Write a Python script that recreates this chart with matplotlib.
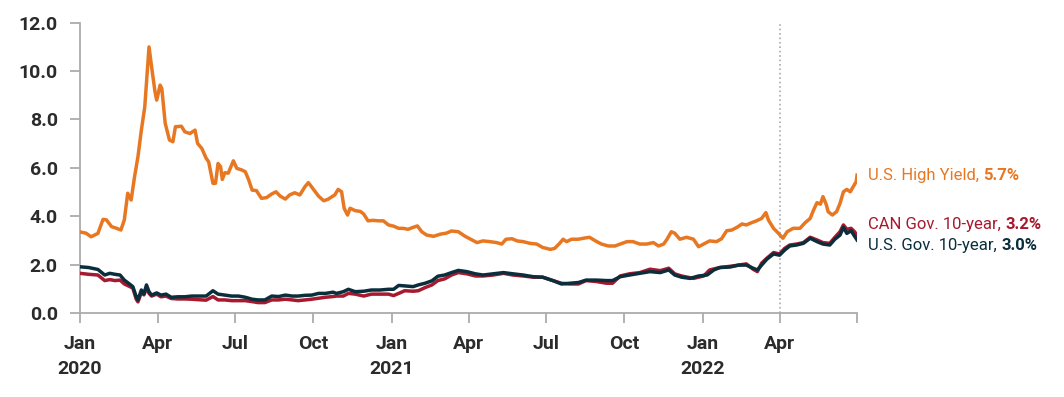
import numpy as np
import pandas as pd
import matplotlib
matplotlib.use("Agg")
import matplotlib.pyplot as plt

# values, day offsets counted from 2020-01-01
hy_days = [0, 7, 13, 21, 27, 31, 37, 43, 48, 52, 56, 60, 64, 68, 72, 76, 79, 81, 84, 88,
           90, 94, 96, 100, 105, 109, 112, 119, 123, 129, 135, 138, 143, 148, 151, 156, 159, 162, 165, 167,
           170, 174, 180, 184, 190, 194, 198, 202, 207, 213, 219, 225, 230, 235, 241, 246, 252, 258, 264, 268,
           274, 280, 286, 291, 299, 303, 307, 310, 314, 317, 323, 329, 333, 338, 344, 350, 356, 362, 368, 374,
           379, 385, 391, 396, 401, 407, 415, 423, 430, 436, 444, 452, 460, 466, 473, 481, 489, 495, 500, 507,
           513, 520, 528, 536, 543, 552, 557, 563, 567, 571, 577, 585, 591, 598, 605, 612, 620, 628, 634, 642,
           649, 657, 665, 673, 679, 685, 689, 694, 698, 704, 712, 720, 726, 732, 739, 747, 753, 759, 765, 771,
           777, 782, 788, 794, 800, 805, 808, 814, 819, 825, 830, 837, 845, 851, 857, 861, 865, 869, 872, 876,
           878, 883, 888, 892, 896, 900, 904, 908, 911, 912]
hy_vals = [3.35, 3.30, 3.15, 3.29, 3.87, 3.85, 3.57, 3.50, 3.43, 3.85, 4.95, 4.67, 5.63, 6.46, 7.56, 8.52, 10.04, 11.0, 10.18, 9.15,
           8.80, 9.42, 9.28, 7.84, 7.15, 7.08, 7.70, 7.72, 7.49, 7.42, 7.56, 7.01, 6.80, 6.40, 6.25, 5.36, 5.36, 6.18, 6.05, 5.52,
           5.80, 5.78, 6.29, 5.98, 5.91, 5.84, 5.50, 5.08, 5.06, 4.74, 4.77, 4.92, 5.01, 4.83, 4.71, 4.88, 4.97, 4.88, 5.22, 5.39,
           5.11, 4.83, 4.64, 4.70, 4.88, 5.11, 5.01, 4.33, 4.05, 4.33, 4.23, 4.20, 4.09, 3.81, 3.83, 3.81, 3.81, 3.64, 3.59, 3.50,
           3.50, 3.46, 3.54, 3.60, 3.36, 3.22, 3.17, 3.26, 3.30, 3.39, 3.36, 3.17, 3.02, 2.91, 2.98, 2.95, 2.91, 2.85, 3.05, 3.07,
           2.98, 2.95, 2.88, 2.85, 2.71, 2.63, 2.67, 2.88, 3.05, 2.95, 3.05, 3.05, 3.09, 3.13, 2.98, 2.85, 2.77, 2.77, 2.85, 2.95,
           2.95, 2.85, 2.85, 2.91, 2.77, 2.85, 3.05, 3.36, 3.30, 3.05, 3.13, 3.05, 2.74, 2.85, 2.98, 2.95, 3.07, 3.40, 3.43, 3.54,
           3.68, 3.64, 3.73, 3.81, 3.91, 4.15, 3.84, 3.50, 3.32, 3.09, 3.36, 3.50, 3.50, 3.73, 3.91, 4.26, 4.56, 4.50, 4.81, 4.47,
           4.19, 4.05, 4.19, 4.53, 5.01, 5.11, 5.01, 5.25, 5.43, 5.70]

us_days = [0, 10, 21, 29, 35, 41, 47, 52, 58, 62, 66, 68, 72, 75, 78, 81, 84, 90, 95, 101,
           107, 115, 123, 131, 139, 148, 156, 162, 170, 178, 186, 194, 202, 209, 217, 225, 233, 241, 249, 256,
           264, 272, 280, 288, 297, 301, 309, 315, 323, 333, 342, 352, 362, 368, 374, 381, 391, 397, 405, 413,
           420, 428, 436, 444, 454, 464, 473, 485, 497, 508, 520, 532, 543, 555, 565, 575, 585, 594, 606, 618,
           625, 634, 645, 657, 669, 681, 691, 698, 706, 716, 726, 736, 744, 751, 763, 773, 782, 790, 795, 800,
           806, 814, 821, 827, 833, 841, 849, 857, 865, 872, 880, 886, 892, 896, 900, 905, 909, 912]
us_vals = [1.91, 1.88, 1.80, 1.57, 1.64, 1.60, 1.57, 1.36, 1.20, 1.09, 0.67, 0.54, 0.95, 0.79, 1.16, 0.88, 0.74, 0.83, 0.74, 0.78,
           0.65, 0.67, 0.67, 0.70, 0.70, 0.70, 0.92, 0.78, 0.74, 0.70, 0.70, 0.65, 0.57, 0.54, 0.54, 0.70, 0.68, 0.74, 0.70, 0.70,
           0.73, 0.74, 0.81, 0.81, 0.86, 0.81, 0.88, 0.98, 0.88, 0.90, 0.95, 0.95, 0.98, 0.98, 1.14, 1.12, 1.09, 1.16, 1.23, 1.33,
           1.52, 1.57, 1.67, 1.76, 1.71, 1.62, 1.57, 1.62, 1.67, 1.62, 1.57, 1.50, 1.48, 1.34, 1.20, 1.23, 1.26, 1.36, 1.36, 1.34,
           1.34, 1.50, 1.57, 1.64, 1.71, 1.67, 1.78, 1.57, 1.48, 1.43, 1.53, 1.57, 1.78, 1.88, 1.90, 1.98, 1.98, 1.85, 1.78, 1.98,
           2.22, 2.44, 2.39, 2.60, 2.77, 2.81, 2.88, 3.09, 2.95, 2.85, 2.81, 3.05, 3.22, 3.54, 3.29, 3.40, 3.18, 3.02]

can_days = [0, 10, 21, 29, 35, 41, 47, 52, 58, 62, 66, 68, 72, 75, 78, 81, 84, 90, 95, 101,
            107, 115, 123, 131, 139, 148, 156, 162, 170, 178, 186, 194, 202, 209, 217, 225, 233, 241, 249, 256,
            264, 272, 280, 288, 297, 301, 309, 315, 323, 333, 342, 352, 362, 368, 376, 381, 391, 397, 405, 413,
            420, 428, 436, 444, 454, 464, 473, 485, 497, 508, 520, 532, 543, 555, 565, 575, 585, 594, 606, 618,
            625, 634, 645, 657, 669, 681, 691, 698, 706, 720, 732, 739, 751, 763, 773, 782, 790, 795, 800, 806,
            814, 821, 827, 833, 841, 849, 857, 865, 872, 880, 886, 892, 896, 900, 905, 909, 912]
can_vals = [1.64, 1.60, 1.57, 1.34, 1.38, 1.34, 1.36, 1.20, 1.10, 1.03, 0.57, 0.46, 0.85, 0.75, 1.03, 0.81, 0.70, 0.78, 0.67, 0.70,
            0.60, 0.58, 0.58, 0.57, 0.55, 0.53, 0.68, 0.54, 0.54, 0.51, 0.51, 0.51, 0.47, 0.43, 0.43, 0.54, 0.54, 0.57, 0.54, 0.51,
            0.54, 0.57, 0.61, 0.65, 0.68, 0.70, 0.70, 0.81, 0.78, 0.70, 0.78, 0.78, 0.78, 0.72, 0.84, 0.92, 0.90, 0.92, 1.05, 1.16,
            1.34, 1.41, 1.57, 1.67, 1.62, 1.53, 1.53, 1.57, 1.64, 1.57, 1.53, 1.48, 1.48, 1.34, 1.23, 1.20, 1.20, 1.34, 1.30, 1.23,
            1.23, 1.53, 1.62, 1.67, 1.81, 1.75, 1.85, 1.62, 1.53, 1.43, 1.53, 1.78, 1.88, 1.93, 1.98, 2.03, 1.81, 1.71, 2.06, 2.26,
            2.50, 2.44, 2.67, 2.81, 2.85, 2.91, 3.13, 3.02, 2.91, 2.88, 3.13, 3.36, 3.64, 3.46, 3.50, 3.36, 3.22]

series_names = ["U.S. High Yield, ", "CAN Gov. 10-year, ", "U.S. Gov. 10-year, "]
last_values = ["5.7%", "3.2%", "3.0%"]
label_levels = [5.7, 3.65, 2.78]

ORANGE = "#E87722"
RED = "#A6192E"
NAVY = "#0B2E3D"
GREY = "#ABABAB"
TXT = "#2B2B2B"

plt.rcParams["font.family"] = ["Roboto", "DejaVu Sans"]

start = pd.Timestamp("2020-01-01")


def to_dates(days):
    return start + pd.to_timedelta(np.array(days), unit="D")


fig = plt.figure(figsize=(10.64, 3.97), dpi=100)
ax = fig.add_axes([0.0752, 0.2116, 0.7303, 0.7312])

ax.plot(to_dates(hy_days), hy_vals, color=ORANGE, lw=2.5, zorder=3)
ax.plot(to_dates(can_days), can_vals, color=RED, lw=2.5, zorder=4)
ax.plot(to_dates(us_days), us_vals, color=NAVY, lw=2.5, zorder=5)

ax.axvline(pd.Timestamp("2022-04-01"), color=GREY, ls=":", lw=1.2, zorder=1)

ax.set_xlim(pd.Timestamp("2020-01-01"), pd.Timestamp("2022-07-01"))
ax.set_ylim(0, 12)

ax.set_yticks(np.arange(0, 12.1, 2))
ax.set_yticklabels([f"{v:.1f}" for v in np.arange(0, 12.1, 2)])

xticks = pd.date_range("2020-01-01", "2022-07-01", freq="QS")
xlabels = []
for d in xticks:
    if d == xticks[-1]:
        xlabels.append("")
    elif d.month == 1:
        xlabels.append(f"Jan\n{d.year}")
    else:
        xlabels.append(d.strftime("%b"))
ax.set_xticks(xticks)
ax.set_xticklabels(xlabels, linespacing=1.5, va="top")

for s in ["top", "right"]:
    ax.spines[s].set_visible(False)
for s in ["left", "bottom"]:
    ax.spines[s].set_color(GREY)
    ax.spines[s].set_linewidth(1.3)

ax.tick_params(axis="both", colors=GREY, width=1.3, length=7, labelcolor=TXT,
               labelsize=14)
ax.tick_params(axis="y", pad=9)
ax.tick_params(axis="x", pad=9)
for lab in ax.get_xticklabels() + ax.get_yticklabels():
    lab.set_fontweight("semibold")

# end-of-line labels
for name, val, level, col in zip(series_names, last_values, label_levels, [ORANGE, RED, NAVY]):
    t = ax.annotate(name, xy=(1, level), xycoords=("axes fraction", "data"),
                    xytext=(8, 0), textcoords="offset points",
                    color=col, fontsize=12, va="center", ha="left",
                    annotation_clip=False)
    ax.annotate(val, xy=(1, 0.5), xycoords=t, va="center", ha="left",
                color=col, fontsize=12, fontweight="bold")

fig.savefig("out.png", dpi=100)
